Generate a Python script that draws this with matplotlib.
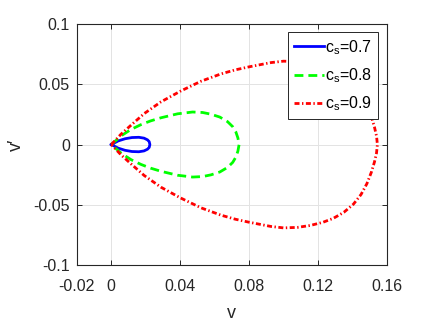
import matplotlib
matplotlib.use("Agg")
import matplotlib.pyplot as plt
import numpy as np

plt.rcParams['font.family'] = ['Liberation Sans', 'DejaVu Sans']
plt.rcParams['mathtext.fontset'] = 'custom'
plt.rcParams['mathtext.rm'] = 'Liberation Sans'
plt.rcParams['mathtext.it'] = 'Liberation Sans'

# upper branch of each loop (v, v'); lower branch is the mirror
v_07 = [0, 0.004, 0.008, 0.012, 0.016, 0.019, 0.021, 0.0220, 0.0224]
dv_07 = [0, 0.0030, 0.0048, 0.0058, 0.0060, 0.0053, 0.0039, 0.0024, 0]

v_08 = [0, 0.006, 0.0114, 0.0172, 0.0228, 0.0288, 0.0385, 0.0472, 0.0530,
        0.0578, 0.0630, 0.0675, 0.0705, 0.0723, 0.0735, 0.0742]
dv_08 = [0, 0.0075, 0.0125, 0.0165, 0.0196, 0.0222, 0.0255, 0.0270, 0.0266,
         0.0252, 0.0228, 0.0190, 0.0148, 0.0105, 0.0055, 0]

v_09 = [0, 0.0056, 0.0114, 0.0191, 0.0288, 0.040, 0.052, 0.0636, 0.072, 0.080,
        0.0926, 0.100, 0.108, 0.1155, 0.123, 0.129, 0.135, 0.1406, 0.145, 0.1484,
        0.151, 0.1528, 0.154, 0.1545]
dv_09 = [0, 0.0085, 0.0160, 0.0257, 0.0354, 0.0442, 0.0525, 0.0586, 0.0620, 0.0645,
         0.0680, 0.0692, 0.0688, 0.0672, 0.0645, 0.0612, 0.0563, 0.0495, 0.0415, 0.0325,
         0.0230, 0.0145, 0.0070, 0]

series = [
    (v_07, dv_07, '#0000ff', '-', 'c$_\\mathrm{s}$=0.7'),
    (v_08, dv_08, '#00ff00', (0, (3.2, 1.8)), 'c$_\\mathrm{s}$=0.8'),
    (v_09, dv_09, '#ff0000', (0, (1.8, 0.9, 0.5, 0.9)), 'c$_\\mathrm{s}$=0.9'),
]

xticks = [-0.02, 0, 0.04, 0.08, 0.12, 0.16]
xticklabels = ['-0.02', '0', '0.04', '0.08', '0.12', '0.16']
yticks = [-0.1, -0.05, 0, 0.05, 0.1]
yticklabels = ['-0.1', '-0.05', '0', '0.05', '0.1']

fig = plt.figure(figsize=(4.27, 3.21), dpi=100)
ax = fig.add_axes([0.180, 0.1745, 0.726, 0.7505])

for v, dv, color, ls, label in series:
    v = np.array(v)
    dv = np.array(dv)
    x = np.concatenate([v, v[::-1]])
    y = np.concatenate([dv, -dv[::-1]])
    ax.plot(x, y, color=color, linestyle=ls, linewidth=2, label=label)

ax.set_xlim(-0.02, 0.16)
ax.set_ylim(-0.1, 0.1)
ax.set_xticks(xticks)
ax.set_xticklabels(xticklabels)
ax.set_yticks(yticks)
ax.set_yticklabels(yticklabels)

ax.grid(True, color='#e3e3e3', linewidth=0.7)
ax.set_axisbelow(True)
for s in ax.spines.values():
    s.set_color('#262626')
    s.set_linewidth(0.8)
ax.tick_params(direction='in', top=True, right=True, length=3.5, width=0.7,
               colors='#262626', labelsize=11.5)
ax.tick_params(axis='x', pad=10)
ax.tick_params(axis='y', pad=5)

ax.set_xlabel('v', fontsize=13, color='#262626', labelpad=8)
ax.set_ylabel('v\u2032', fontsize=13, color='#262626', labelpad=6)

leg = ax.legend(loc='upper right', bbox_to_anchor=(0.972, 0.9656), borderaxespad=0,
                fontsize=11.5, handlelength=1.9, handletextpad=0.1, labelspacing=0.6,
                fancybox=False, framealpha=1, edgecolor='#262626', borderpad=0.35)
leg.get_frame().set_linewidth(0.7)

fig.savefig('out.png', dpi=100)
